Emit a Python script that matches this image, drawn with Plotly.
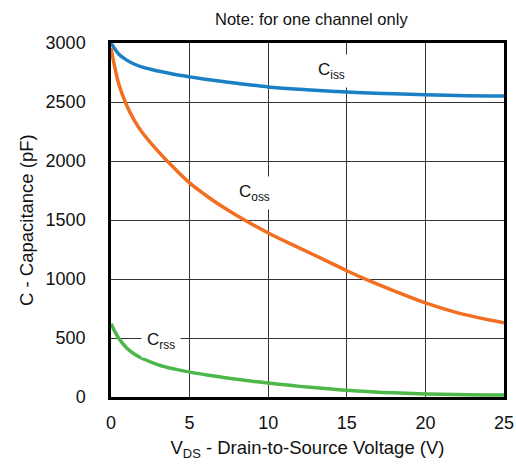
import plotly.graph_objects as go

vds = [0, 0.5, 1, 1.5, 2, 3, 4, 5, 6, 7, 8, 10, 12, 14, 15, 16, 18, 20, 22, 24, 25]
ciss = [3000, 2905, 2855, 2820, 2795, 2762, 2735, 2713, 2693, 2675, 2659, 2628, 2608, 2592, 2585, 2579, 2569, 2561, 2555, 2551, 2550]
coss = [2958, 2650, 2470, 2340, 2240, 2082, 1942, 1814, 1712, 1620, 1538, 1390, 1262, 1135, 1070, 1010, 900, 797, 715, 655, 630]
crss = [620, 495, 415, 362, 326, 273, 238, 211, 189, 169, 150, 118, 90, 67, 57, 48, 35, 26, 21, 18, 17]

FAM = "Liberation Sans, Arial"

fig = go.Figure()
fig.add_trace(go.Scatter(x=vds, y=ciss, mode="lines", line=dict(color="#1b7fc4", width=3.5, shape="spline")))
fig.add_trace(go.Scatter(x=vds, y=coss, mode="lines", line=dict(color="#f26f22", width=3.5, shape="spline")))
fig.add_trace(go.Scatter(x=vds, y=crss, mode="lines", line=dict(color="#4cb849", width=3.5, shape="spline")))

for txt, x, y in [("C<sub>iss</sub>", 14.05, 2763), ("C<sub>oss</sub>", 9.1, 1730), ("C<sub>rss</sub>", 3.2, 475)]:
    fig.add_annotation(x=x, y=y, text=txt, showarrow=False, bgcolor="white",
                       font=dict(family=FAM, size=17, color="#111"), borderpad=5)

fig.add_annotation(x=0.51, y=1, xref="paper", yref="paper", yshift=35, text="Note: for one channel only",
                   showarrow=False, font=dict(family=FAM, size=16.5, color="#111"))

# y-axis title placed as rotated text
fig.add_annotation(x=0, y=0.5, xref="paper", yref="paper", xshift=-85, text="C - Capacitance (pF)",
                   textangle=-90, showarrow=False, xanchor="center", yanchor="middle",
                   font=dict(family=FAM, size=18.5, color="#111"))

fig.update_layout(
    width=516, height=464, margin=dict(l=111, r=12, t=43, b=67, autoexpand=False),
    paper_bgcolor="white", plot_bgcolor="white", showlegend=False,
    font=dict(family=FAM, size=18, color="#111"),
)
fig.update_xaxes(range=[0, 25], dtick=5, showgrid=True, gridcolor="#333", gridwidth=1,
                 showline=True, linecolor="black", linewidth=2.5, mirror=True, zeroline=False,
                 ticks="", ticklabelstandoff=8, tickfont=dict(size=18), automargin=False,
                 title=dict(text="V<sub>DS</sub> - Drain-to-Source Voltage (V)", standoff=9,
                            font=dict(size=18.5)))
fig.update_yaxes(range=[0, 3000], dtick=500, showgrid=True, gridcolor="#333", gridwidth=1,
                 showline=True, linecolor="black", linewidth=2.5, mirror=True, zeroline=False,
                 ticks="", ticklabelstandoff=19, tickfont=dict(size=18), automargin=False)

fig.write_html("out.html", config={"displayModeBar": False},
               post_script="document.body.style.margin='0';document.body.style.overflow='hidden';")
